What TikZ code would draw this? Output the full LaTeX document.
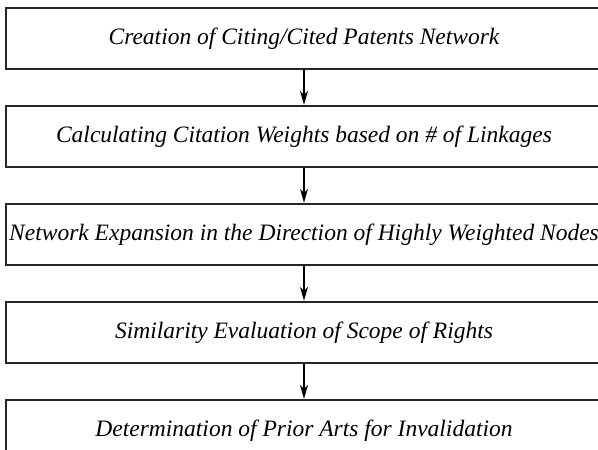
\documentclass[tikz,border=0pt]{standalone}
\usepackage{fontspec}
\setmainfont{Liberation Serif}
\usetikzlibrary{arrows.meta}

\begin{document}
\begin{tikzpicture}[x=1pt,y=1pt,
	stepbox/.style={shape=rectangle,draw=black!85,line width=2.4pt,minimum width=596pt,minimum height=61pt,inner sep=0pt,font=\fontsize{23.5}{28}\selectfont\itshape},
	flow/.style={-{Stealth[length=14pt,width=8pt,inset=4pt]},line width=1.2pt,draw=black}]
	
	\useasboundingbox (0,0) rectangle (598,-450);
	
	\node[stepbox] (create) at (304, -38.5)     {Creation of Citing/Cited Patents Network};
	\node[stepbox] (weight) at (304, -136.5)    {Calculating Citation Weights based on \# of Linkages};
	\node[stepbox] (expand) at (304, -234.5)    {Network Expansion in the Direction of Highly Weighted Nodes};
	\node[stepbox] (simil)  at (304, -332.5)    {Similarity Evaluation of Scope of Rights};
	\node[stepbox] (prior)  at (304, -430.5)    {Determination of Prior Arts for Invalidation};
	
	\path[flow] (create) edge (weight);
	\path[flow] (weight) edge (expand);
	\path[flow] (expand) edge (simil);
	\path[flow] (simil) edge (prior);
\end{tikzpicture}
\end{document}
